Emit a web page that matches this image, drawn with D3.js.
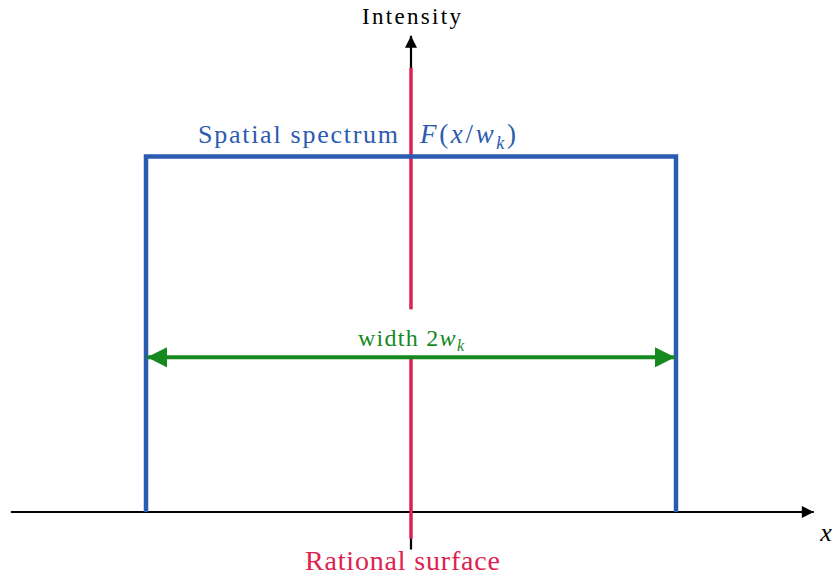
<!DOCTYPE html>
<html>
<head>
<meta charset="utf-8">
<script src="https://cdn.jsdelivr.net/npm/d3@7"></script>
<style>
  body { margin: 0; background: #fff; }
  text { font-family: "Liberation Serif", "DejaVu Serif", serif; }
</style>
</head>
<body>
<svg id="chart" width="834" height="582"></svg>
<script>
// spectrum profile in units of w_k, intensity normalised to 1
const spectrumX = [-1, -1, 1, 1];
const spectrumY = [0, 1, 1, 0];
const axisXRange = [-1.51, 1.52];
const axisYRange = [-0.1, 1.34];
const rationalX = 0;
const widthArrowY = 0.435;

const svg = d3.select("#chart");
const x = d3.scaleLinear().domain([-1, 1]).range([146, 676]);
const y = d3.scaleLinear().domain([0, 1]).range([512, 156.5]);

const blue = "#2b5bb0", red = "#e0214f", green = "#15891f";

const defs = svg.append("defs");
function marker(id, color, w, h) {
    defs.append("marker")
        .attr("id", id)
        .attr("viewBox", "0 0 10 10")
        .attr("refX", 10).attr("refY", 5)
        .attr("markerUnits", "userSpaceOnUse")
        .attr("markerWidth", w).attr("markerHeight", h)
        .attr("orient", "auto-start-reverse")
        .append("path")
        .attr("d", "M0,0 L10,5 L0,10 Z")
        .attr("fill", color);
}
marker("blackArrow", "#000", 14, 12);
marker("greenArrow", green, 22, 20);

// x axis
svg.append("line")
    .attr("x1", x(axisXRange[0])).attr("x2", x(axisXRange[1]))
    .attr("y1", y(0)).attr("y2", y(0))
    .attr("stroke", "#000").attr("stroke-width", 2.2)
    .attr("marker-end", "url(#blackArrow)");

// y axis
svg.append("line")
    .attr("x1", x(rationalX)).attr("x2", x(rationalX))
    .attr("y1", y(axisYRange[0]) + 2).attr("y2", y(axisYRange[1]))
    .attr("stroke", "#000").attr("stroke-width", 2.2)
    .attr("marker-end", "url(#blackArrow)");

// rational surface line
svg.append("line")
    .attr("x1", x(rationalX)).attr("x2", x(rationalX))
    .attr("y1", y(-0.075)).attr("y2", y(1.25))
    .attr("stroke", red).attr("stroke-width", 3.4);

// spectrum
const line = d3.line().x(d => x(d[0])).y(d => y(d[1]));
svg.append("path")
    .datum(d3.zip(spectrumX, spectrumY))
    .attr("d", line)
    .attr("fill", "none")
    .attr("stroke", blue).attr("stroke-width", 4.5)
    .attr("stroke-linejoin", "miter");

// label background gap around "width 2w_k"
svg.append("rect")
    .attr("x", x(rationalX) - 8).attr("y", y(widthArrowY) - 48)
    .attr("width", 16).attr("height", 48)
    .attr("fill", "#fff");

// width arrow
svg.append("line")
    .attr("x1", x(-1) + 1).attr("x2", x(1) - 1)
    .attr("y1", y(widthArrowY)).attr("y2", y(widthArrowY))
    .attr("stroke", green).attr("stroke-width", 4)
    .attr("marker-start", "url(#greenArrow)")
    .attr("marker-end", "url(#greenArrow)");

// labels
const w = svg.append("text")
    .attr("x", 358).attr("y", y(widthArrowY) - 11)
    .attr("font-size", 24).attr("fill", green)
    .attr("textLength", 106).attr("lengthAdjust", "spacing");
w.append("tspan").text("width 2");
w.append("tspan").attr("font-style", "italic").text("w");
w.append("tspan").attr("font-style", "italic").attr("font-size", 16).attr("dy", 5).text("k");

svg.append("text")
    .attr("x", 198).attr("y", y(1) - 14)
    .attr("font-size", 26).attr("fill", blue)
    .attr("textLength", 200).attr("lengthAdjust", "spacing")
    .text("Spatial spectrum");

const f = svg.append("text")
    .attr("x", 420).attr("y", y(1) - 14)
    .attr("font-size", 27).attr("fill", blue)
    .attr("textLength", 96).attr("lengthAdjust", "spacing");
f.append("tspan").attr("font-style", "italic").text("F");
f.append("tspan").text("(");
f.append("tspan").attr("font-style", "italic").text("x");
f.append("tspan").text("/");
f.append("tspan").attr("font-style", "italic").text("w");
f.append("tspan").attr("font-style", "italic").attr("font-size", 18).attr("dy", 6).text("k");
f.append("tspan").attr("dy", -6).text(")");

svg.append("text")
    .attr("x", 362).attr("y", 24)
    .attr("font-size", 23).attr("fill", "#000")
    .attr("textLength", 99).attr("lengthAdjust", "spacing")
    .text("Intensity");

svg.append("text")
    .attr("x", 305).attr("y", 570)
    .attr("font-size", 28).attr("fill", red)
    .attr("textLength", 195).attr("lengthAdjust", "spacing")
    .text("Rational surface");

svg.append("text")
    .attr("x", 826).attr("y", 541)
    .attr("text-anchor", "middle").attr("font-size", 26).attr("font-style", "italic")
    .text("x");
</script>
</body>
</html>
